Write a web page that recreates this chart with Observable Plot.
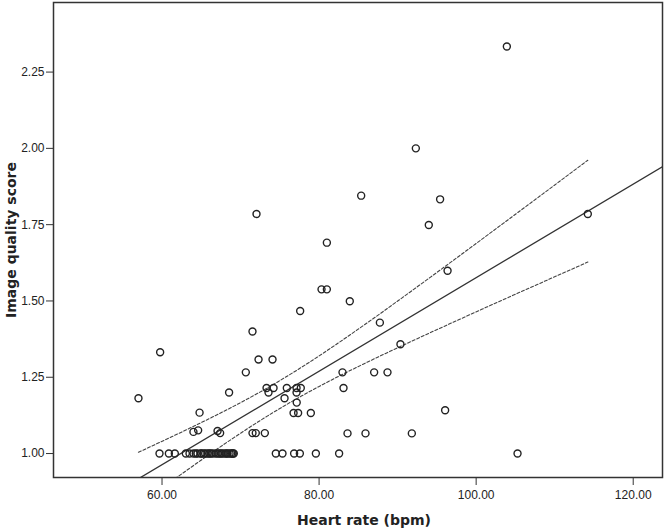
<!DOCTYPE html>
<html><head><meta charset="utf-8">
<script src="https://cdn.jsdelivr.net/npm/d3@7"></script>
<script src="https://cdn.jsdelivr.net/npm/@observablehq/plot@0.6"></script>
<style>body{margin:0;background:#fff;}</style>
</head><body><div id="chart"></div>
<script>
// Heart rate (bpm) and image quality score for each patient
const heartRate = [
  57.0, 59.76, 64.78, 64.0, 64.6, 72.03, 80.99, 80.31, 80.99, 83.91,
  77.59, 71.52, 92.32, 85.36, 95.41, 93.97, 96.36, 114.22, 87.74, 90.36,
  103.91, 82.98, 87.01, 88.71, 83.11, 96.05, 83.62, 85.91, 91.81, 72.29,
  74.07, 70.67, 68.54, 73.31, 74.20, 73.56, 75.89, 77.13, 77.67, 77.13,
  75.60, 77.15, 76.75, 77.33, 78.95, 67.07, 67.40, 71.52, 71.94, 73.09,
  59.68, 60.87, 61.63, 63.03, 64.01, 64.52, 64.94, 65.79, 66.43, 67.07,
  67.70, 68.34, 68.98, 69.14, 74.49, 75.34, 76.82, 77.55, 79.59, 82.55,
  105.27,
  63.5, 64.3, 65.0, 65.3, 65.5, 66.0, 66.2, 66.8, 67.3, 67.5,
  68.0, 68.2, 68.6, 68.8, 69.0
];
const qualityScore = [
  1.181, 1.332, 1.134, 1.071, 1.076, 1.785, 1.691, 1.538, 1.538, 1.499,
  1.467, 1.400, 2.000, 1.845, 1.833, 1.749, 1.599, 1.785, 1.429, 1.358,
  2.334, 1.266, 1.266, 1.266, 1.215, 1.142, 1.066, 1.066, 1.066, 1.308,
  1.308, 1.266, 1.200, 1.215, 1.215, 1.200, 1.215, 1.215, 1.215, 1.200,
  1.181, 1.167, 1.133, 1.133, 1.133, 1.074, 1.067, 1.067, 1.067, 1.067,
  1.00, 1.00, 1.00, 1.00, 1.00, 1.00, 1.00, 1.00, 1.00, 1.00,
  1.00, 1.00, 1.00, 1.00, 1.00, 1.00, 1.00, 1.00, 1.00, 1.00,
  1.00,
  1.00, 1.00, 1.00, 1.00, 1.00, 1.00, 1.00, 1.00, 1.00, 1.00,
  1.00, 1.00, 1.00, 1.00, 1.00
];
const xTicks = [60, 80, 100, 120];
const yTicks = [1.00, 1.25, 1.50, 1.75, 2.00, 2.25];
const xDomain = [46.18, 123.73];
const yDomain = [0.9215, 2.478];
const xLabel = "Heart rate (bpm)";
const yLabel = "Image quality score";
const tCrit = 1.99; // 95% two-sided t quantile for the mean confidence interval

const pts = heartRate.map((x, i) => ({x, y: qualityScore[i]}));
const n = pts.length;
const mx = d3.mean(heartRate), my = d3.mean(qualityScore);
let sxx = 0, sxy = 0;
pts.forEach(p => { sxx += (p.x - mx) ** 2; sxy += (p.x - mx) * (p.y - my); });
const b = sxy / sxx, a = my - b * mx;
const sse = d3.sum(pts, p => (p.y - a - b * p.x) ** 2);
const s = Math.sqrt(sse / (n - 2));
const fit = xDomain.map(x => ({x, y: a + b * x}));
const [xmin, xmax] = d3.extent(heartRate);
const ci = d3.range(0, 81).map(i => {
  const x = xmin + (xmax - xmin) * i / 80;
  const h = tCrit * s * Math.sqrt(1 / n + (x - mx) ** 2 / sxx);
  return {x, lo: a + b * x - h, hi: a + b * x + h};
});

const titleFont = "'DejaVu Sans', Verdana, sans-serif";

const chart = Plot.plot({
  width: 664,
  height: 531,
  marginLeft: 53,
  marginRight: 2,
  marginTop: 2,
  marginBottom: 54,
  style: {fontFamily: "'Liberation Sans', Arial, sans-serif", fontSize: "12px", color: "#222", background: "#fff"},
  x: {domain: xDomain},
  y: {domain: yDomain},
  marks: [
    Plot.line(fit, {x: "x", y: "y", stroke: "#333", strokeWidth: 1.3, clip: true}),
    Plot.line(ci, {x: "x", y: "hi", stroke: "#444", strokeWidth: 1.1, strokeDasharray: "3,2", clip: true}),
    Plot.line(ci, {x: "x", y: "lo", stroke: "#444", strokeWidth: 1.1, strokeDasharray: "3,2", clip: true}),
    Plot.dot(pts, {x: "x", y: "y", r: 3.5, stroke: "#222", strokeWidth: 1.4, fill: "none"}),
    Plot.frame({stroke: "#333", strokeWidth: 1.5}),
    Plot.axisX({ticks: xTicks, tickFormat: d => d.toFixed(2), tickSize: 8, tickPadding: 5, label: null, fontSize: 12, stroke: "#333"}),
    Plot.axisY({ticks: yTicks, tickFormat: d => d.toFixed(2), tickSize: 7, tickPadding: 2, label: null, fontSize: 12, stroke: "#333"}),
    Plot.text([xLabel], {text: d => d, frameAnchor: "bottom", textAnchor: "middle", lineAnchor: "middle", dy: 43, dx: 6, fontSize: 14, fontWeight: "bold", fontFamily: titleFont, fill: "#222"}),
    Plot.text([yLabel], {text: d => d, frameAnchor: "left", textAnchor: "middle", lineAnchor: "middle", dx: -42, rotate: -90, fontSize: 14, fontWeight: "bold", fontFamily: titleFont, fill: "#222"})
  ]
});
document.getElementById("chart").appendChild(chart);
</script>
</body></html>
